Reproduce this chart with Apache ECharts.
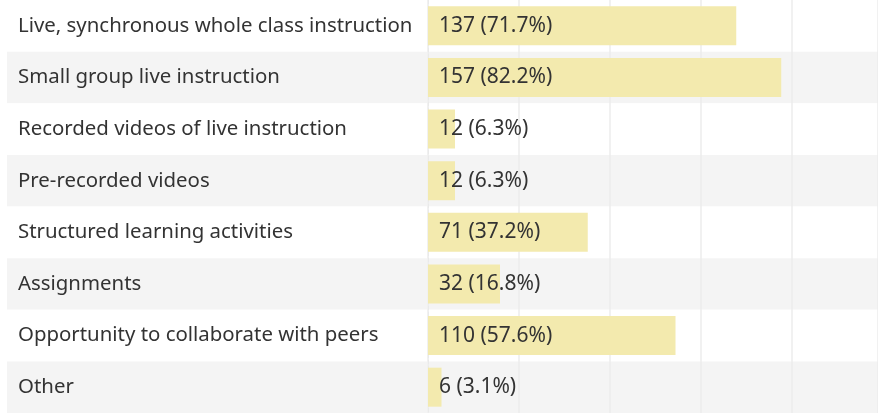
<!DOCTYPE html>
<html>
<head>
<meta charset="utf-8">
<script src="https://cdn.jsdelivr.net/npm/echarts@6/dist/echarts.min.js"></script>
<style>
  html, body { margin: 0; padding: 0; background: #fff; }
  #chart { width: 878px; height: 413px; }
</style>
</head>
<body>
<div id="chart"></div>
<script>
// categories and values
var categories = [
  'Live, synchronous whole class instruction',
  'Small group live instruction',
  'Recorded videos of live instruction',
  'Pre-recorded videos',
  'Structured learning activities',
  'Assignments',
  'Opportunity to collaborate with peers',
  'Other'
];
var counts = [137, 157, 12, 12, 71, 32, 110, 6];
var percents = [71.7, 82.2, 6.3, 6.3, 37.2, 16.8, 57.6, 3.1];

var font = 'Noto Sans';
var textColor = '#333333';
var rowColors = ['#ffffff', '#f4f4f4'];

var chart = echarts.init(document.getElementById('chart'));

var option = {
  backgroundColor: '#fff',
  animation: false,
  grid: [
    // label column
    { left: 7, width: 420, top: -3.3, bottom: -2.3 },
    // bar column
    { left: 428, right: 0, top: -3.3, bottom: -2.3 }
  ],
  xAxis: [
    { gridIndex: 0, type: 'value', show: false, min: 0, max: 1 },
    { gridIndex: 1, type: 'value', min: 0, max: 200, show: false },
    {
      // only for the vertical grid lines
      gridIndex: 1, type: 'value', min: 0, max: 4.95, interval: 1,
      z: 1,
      axisLine: { show: false }, axisTick: { show: false }, axisLabel: { show: false },
      splitLine: { show: true, lineStyle: { color: '#ececec', width: 1.5 } }
    }
  ],
  yAxis: [
    {
      gridIndex: 0, type: 'category', inverse: true, data: categories,
      axisLine: { show: false }, axisTick: { show: false },
      splitArea: { show: true, areaStyle: { color: rowColors } },
      axisLabel: {
        inside: true, margin: 11,
        color: textColor, fontFamily: font, fontSize: 20.4
      }
    },
    {
      gridIndex: 1, type: 'category', inverse: true, data: categories,
      axisTick: { show: false }, axisLabel: { show: false },
      axisLine: { show: true, lineStyle: { color: '#e4e4e4', type: 'dashed', width: 1 } },
      splitArea: { show: true, areaStyle: { color: rowColors } }
    }
  ],
  series: [{
    type: 'bar',
    xAxisIndex: 1,
    yAxisIndex: 1,
    z: 3,
    data: counts,
    barWidth: 39,
    itemStyle: { color: '#f3eaae' },
    label: {
      show: true,
      position: 'insideLeft',
      distance: 11,
      color: textColor,
      fontFamily: font,
      fontSize: 21,
      formatter: function (p) {
        return p.value + ' (' + percents[p.dataIndex].toFixed(1) + '%)';
      }
    }
  }]
};

chart.setOption(option);
</script>
</body>
</html>
